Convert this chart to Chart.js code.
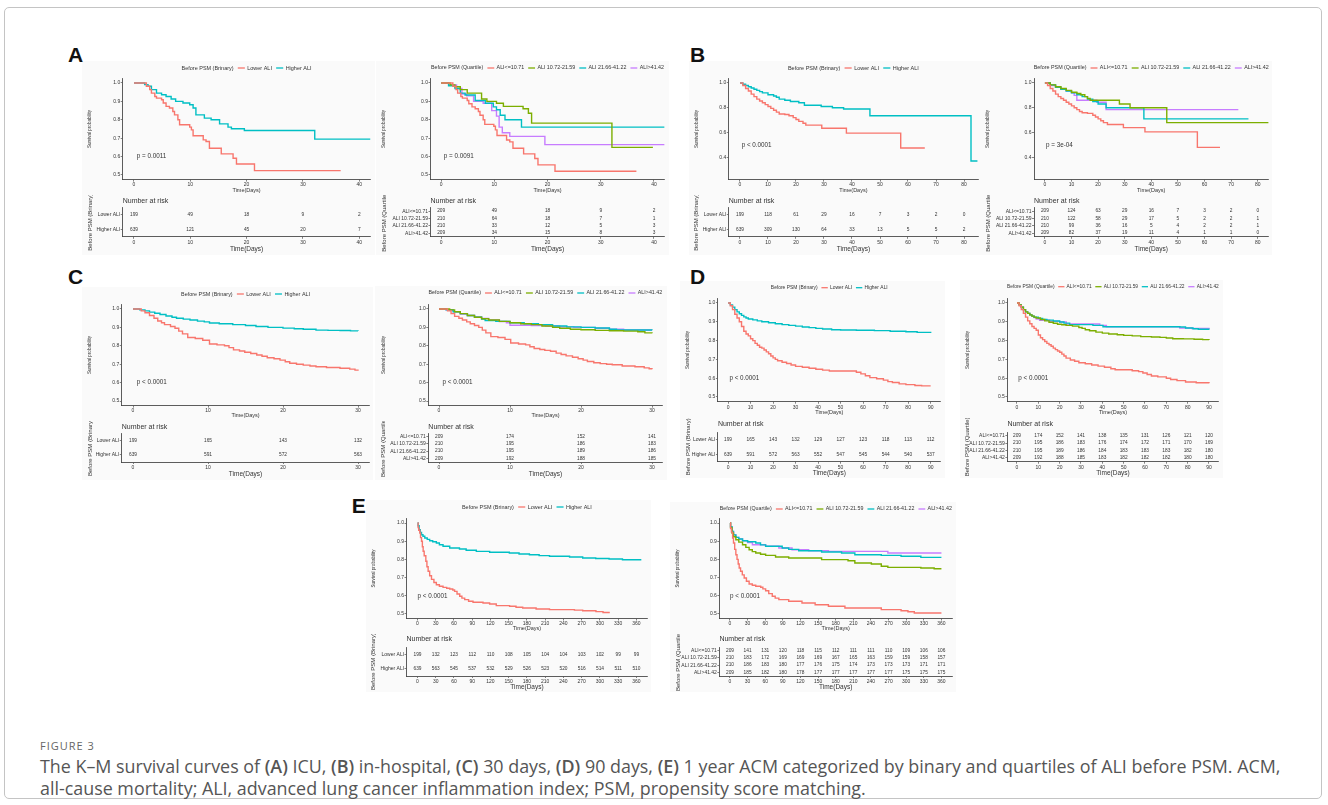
<!DOCTYPE html>
<html>
<head>
<meta charset="utf-8">
<script src="https://cdn.jsdelivr.net/npm/chart.js@4.4.1/dist/chart.umd.min.js"></script>
<style>
  body { margin: 0; width: 1328px; height: 805px; overflow: hidden; position: relative; background: #fff; font-family: "Liberation Sans", Arial, sans-serif; }
  .frame { position: absolute; left: 4px; top: 7px; width: 1318px; height: 792px; border: 1px solid #c4c4c4; border-radius: 5px; box-sizing: border-box; }
  .letter { position: absolute; font: bold 21px/21px "Liberation Sans", Arial, sans-serif; color: #111; }
  .bg { position: absolute; background: #fafafa; }
  canvas { position: absolute; }
  .figlabel { position: absolute; left: 40px; top: 739px; font: 11px/13px "Open Sans", sans-serif; letter-spacing: 1px; color: #666; }
  .capline { position: absolute; left: 40px; font-family: "Open Sans", sans-serif; font-size: 16px; line-height: 22px; color: #555; white-space: nowrap; }
  .capline b { font-weight: 600; }
</style>
</head>
<body>
<div class="frame"></div>
<div class="figlabel">FIGURE 3</div>
<div class="capline" id="cap1" style="top:755px">The K–M survival curves of <b>(A)</b> ICU, <b>(B)</b> in-hospital, <b>(C)</b> 30 days, <b>(D)</b> 90 days, <b>(E)</b> 1 year ACM categorized by binary and quartiles of ALI before PSM. ACM,</div>
<div class="capline" id="cap2" style="top:777px">all-cause mortality; ALI, advanced lung cancer inflammation index; PSM, propensity score matching.</div>
<script>
const FONT = '"Liberation Sans", Arial, sans-serif';
const INK = "#333333";
const RED = "#F8766D";
const GREEN = "#7CAE00";
const CYAN = "#00BFC4";
const PURPLE = "#C77CFF";

// groups and ticks
const binaryGroups = ["Lower ALI", "Higher ALI"];
const quartileGroups = ["ALI<=10.71", "ALI 10.72-21.59", "ALI 21.66-41.22", "ALI>41.42"];
const ticksIcu = [0, 10, 20, 30, 40];
const ticksHospital = [0, 10, 20, 30, 40, 50, 60, 70, 80];
const ticks30 = [0, 10, 20, 30];
const ticks90 = [0, 10, 20, 30, 40, 50, 60, 70, 80, 90];
const ticksYear = [0, 30, 60, 90, 120, 150, 180, 210, 240, 270, 300, 330, 360];
const survTicksHalf = [0.5, 0.6, 0.7, 0.8, 0.9, 1.0];
const survTicksWide = [0.4, 0.6, 0.8, 1.0];

// A: ICU
const icuLower = [[0,1],[2.2,0.982],[2.8,0.964],[3.1,0.945],[3.7,0.927],[4,0.918],[4.9,0.909],[5.2,0.891],[5.7,0.873],[6.3,0.864],[6.9,0.845],[7.2,0.827],[7.8,0.8],[8.1,0.773],[9.9,0.76],[10.2,0.745],[10.5,0.713],[12.3,0.691],[12.8,0.682],[13.4,0.645],[15.5,0.615],[17.6,0.591],[18.2,0.56],[21.4,0.524],[36.7,0.524]];
const icuHigher = [[0,1],[1.9,0.991],[2.5,0.982],[3.1,0.964],[4,0.945],[4.9,0.936],[5.7,0.927],[6.6,0.913],[7.4,0.9],[8.7,0.891],[9.9,0.882],[10.5,0.864],[11,0.827],[12.5,0.809],[13.7,0.8],[15.2,0.778],[16.7,0.76],[17.3,0.751],[19.6,0.742],[32.1,0.695],[42,0.695]];
const icuQ1 = [[0,1],[2.2,0.982],[2.8,0.964],[3.1,0.945],[3.7,0.927],[4,0.918],[4.9,0.905],[5.2,0.887],[5.8,0.87],[6.4,0.86],[7,0.845],[7.3,0.825],[7.9,0.8],[8.2,0.775],[9.9,0.765],[10.2,0.745],[10.5,0.715],[12.3,0.69],[12.9,0.68],[13.5,0.645],[15.5,0.615],[17.6,0.59],[18.2,0.555],[21.4,0.52],[36.7,0.52]];
const icuQ2 = [[0,1],[1.7,0.99],[2.6,0.98],[3.6,0.964],[4.9,0.945],[7.6,0.913],[8.6,0.9],[10.4,0.89],[11.7,0.873],[15.4,0.86],[16.4,0.836],[17,0.782],[32.1,0.65],[39.8,0.65]];
const icuQ3 = [[0,1],[1.4,0.985],[2.6,0.97],[3.6,0.945],[4.5,0.935],[6.4,0.905],[8.3,0.89],[9.8,0.87],[10.4,0.855],[11.1,0.825],[12,0.8],[15.1,0.76],[42,0.76]];
const icuQ4 = [[0,1],[1.4,0.99],[2.9,0.97],[3.9,0.94],[4.8,0.93],[6.1,0.9],[7.9,0.89],[9.5,0.85],[10.4,0.82],[10.9,0.76],[11.5,0.73],[12.9,0.71],[19.5,0.665],[42,0.665]];
const icuRiskLower = [199, 49, 18, 9, 2];
const icuRiskHigher = [639, 121, 45, 20, 7];
const icuRiskQ1 = [209, 49, 18, 9, 2];
const icuRiskQ2 = [210, 64, 18, 7, 1];
const icuRiskQ3 = [210, 33, 12, 5, 3];
const icuRiskQ4 = [209, 34, 15, 8, 3];

// B: in-hospital
const hospLower = [[0,1],[1,0.98],[2,0.955],[3,0.935],[4,0.91],[5,0.89],[6,0.87],[7,0.855],[8,0.84],[9,0.825],[10,0.81],[11,0.795],[12,0.78],[13,0.765],[14,0.75],[16,0.745],[17.5,0.735],[19,0.72],[20,0.705],[21,0.69],[22.5,0.675],[23.5,0.66],[29.2,0.635],[38,0.595],[57.4,0.475],[66,0.475]];
const hospHigher = [[0,1],[1,0.99],[2,0.98],[3,0.97],[4,0.96],[5,0.95],[6,0.94],[7,0.93],[8,0.92],[10,0.905],[12,0.895],[13,0.885],[14,0.87],[16,0.86],[18,0.85],[21,0.84],[23,0.82],[29,0.81],[33,0.8],[37,0.79],[46.4,0.735],[82.5,0.37],[84.8,0.37]];
const hospQ1 = [[0,1],[1,0.98],[2,0.955],[3,0.935],[4,0.91],[5,0.89],[6,0.875],[7,0.86],[8,0.845],[9,0.83],[10,0.815],[11,0.8],[12,0.785],[13,0.77],[14,0.76],[16,0.755],[18,0.74],[19,0.725],[20,0.71],[21,0.695],[22,0.68],[23.5,0.665],[29.5,0.64],[37.6,0.605],[57.3,0.48],[65.8,0.48]];
const hospQ2 = [[0,1],[2,0.985],[4,0.97],[6,0.955],[8,0.94],[10,0.925],[12,0.915],[13.5,0.905],[15,0.89],[16,0.875],[17,0.86],[28,0.83],[32,0.8],[45.8,0.68],[84.4,0.68]];
const hospQ3 = [[0,1],[2,0.985],[4,0.965],[6,0.95],[8,0.935],[10,0.92],[12,0.905],[14,0.89],[16,0.87],[18,0.85],[20,0.83],[23,0.8],[37.2,0.71],[76.5,0.71]];
const hospQ4 = [[0,1],[2,0.98],[4,0.965],[6,0.95],[8,0.935],[10,0.92],[11,0.9],[12,0.86],[19.5,0.845],[23,0.785],[72.7,0.785]];
const hospRiskLower = [199, 118, 61, 29, 16, 7, 3, 2, 0];
const hospRiskHigher = [639, 309, 130, 64, 33, 13, 5, 5, 2];
const hospRiskQ1 = [209, 124, 63, 29, 16, 7, 3, 2, 0];
const hospRiskQ2 = [210, 122, 58, 29, 17, 5, 2, 2, 1];
const hospRiskQ3 = [210, 99, 36, 16, 5, 4, 2, 2, 1];
const hospRiskQ4 = [209, 82, 37, 19, 11, 4, 1, 1, 0];

// C: 30 days
const d30Lower = [[0,1],[1.1,0.99],[1.6,0.98],[2.2,0.965],[2.8,0.95],[3.3,0.935],[3.8,0.925],[4.2,0.915],[5,0.905],[5.6,0.895],[6.1,0.88],[6.6,0.865],[7.3,0.845],[8.3,0.84],[9.3,0.83],[10.2,0.81],[11.2,0.805],[12.2,0.8],[12.8,0.79],[13.4,0.778],[14.2,0.772],[14.9,0.765],[15.7,0.758],[16.5,0.75],[17.2,0.743],[17.9,0.735],[18.8,0.73],[19.6,0.722],[20.3,0.713],[20.9,0.705],[21.8,0.7],[22.7,0.695],[23.6,0.69],[24.4,0.686],[25.8,0.682],[27.6,0.678],[28.9,0.673],[29.6,0.668],[30,0.664]];
const d30Higher = [[0,1],[0.9,0.995],[1.6,0.99],[2.2,0.983],[2.9,0.977],[3.6,0.97],[4.4,0.962],[5.2,0.955],[5.8,0.95],[6.7,0.945],[7.6,0.94],[8.6,0.934],[9.5,0.93],[10.2,0.924],[11.5,0.92],[13.3,0.915],[15,0.91],[16.4,0.905],[18,0.9],[20,0.896],[21.5,0.893],[22.7,0.89],[24.4,0.885],[26,0.884],[27.6,0.883],[29,0.881],[30,0.88]];
const d30Q1 = [[0,1],[1.2,0.99],[1.7,0.975],[2.2,0.96],[2.8,0.95],[3.3,0.94],[3.9,0.93],[4.4,0.92],[5,0.91],[5.6,0.9],[6.1,0.885],[6.6,0.87],[7.3,0.85],[8.3,0.845],[9.3,0.835],[10.1,0.815],[11.2,0.81],[12.2,0.805],[12.8,0.795],[13.4,0.785],[14.2,0.78],[14.9,0.775],[15.7,0.77],[16.5,0.76],[17.2,0.753],[17.9,0.745],[18.8,0.738],[19.6,0.73],[20.3,0.722],[20.9,0.715],[21.8,0.708],[22.7,0.703],[23.6,0.7],[24.4,0.697],[25.8,0.69],[27.6,0.686],[28.9,0.68],[29.6,0.675],[30,0.672]];
const d30Q2 = [[0,1],[1.5,0.995],[2.2,0.985],[3,0.975],[4,0.965],[5,0.955],[6,0.947],[7,0.94],[8.5,0.933],[10,0.925],[11.5,0.92],[13,0.915],[14.5,0.908],[16,0.9],[17,0.895],[18.5,0.89],[20,0.887],[22,0.884],[24,0.882],[26,0.88],[28,0.876],[29,0.87],[30,0.868]];
const d30Q3 = [[0,1],[1,0.995],[2,0.985],[3,0.975],[4,0.965],[5,0.955],[6,0.945],[6.5,0.937],[8,0.933],[10,0.925],[12,0.92],[14,0.915],[16,0.908],[18,0.903],[20,0.9],[22,0.897],[24,0.89],[25,0.886],[30,0.885]];
const d30Q4 = [[0,1],[1,0.995],[2,0.985],[3,0.972],[4,0.965],[5,0.957],[6,0.948],[7,0.94],[8.5,0.932],[9.5,0.925],[10,0.912],[13,0.91],[15,0.908],[17,0.903],[19,0.9],[22,0.895],[24,0.89],[26,0.886],[30,0.886]];
const d30RiskLower = [199, 165, 143, 132];
const d30RiskHigher = [639, 591, 572, 563];
const d30RiskQ1 = [209, 174, 152, 141];
const d30RiskQ2 = [210, 195, 186, 183];
const d30RiskQ3 = [210, 195, 189, 186];
const d30RiskQ4 = [209, 192, 188, 185];

// D: 90 days
const d90Lower = [[0,1],[1,0.985],[2,0.965],[3,0.94],[4,0.92],[5,0.9],[6,0.875],[7,0.85],[8,0.835],[9,0.825],[10,0.81],[11,0.8],[12,0.785],[13,0.775],[14,0.765],[15,0.76],[16,0.75],[17,0.74],[18,0.73],[19,0.718],[20,0.708],[21,0.7],[22,0.693],[24,0.685],[26,0.678],[28,0.67],[30,0.663],[33,0.658],[36,0.653],[39,0.648],[42,0.643],[45,0.638],[54,0.638],[57,0.632],[59,0.623],[61,0.613],[63,0.603],[66,0.597],[69,0.59],[71,0.582],[73,0.577],[76,0.57],[79,0.566],[83,0.561],[86,0.559],[90,0.559]];
const d90Higher = [[0,1],[1,0.99],[2,0.978],[3,0.965],[4,0.953],[5,0.943],[6,0.934],[7,0.926],[8,0.92],[9,0.915],[11,0.91],[13,0.905],[15,0.9],[18,0.895],[21,0.89],[24,0.885],[27,0.881],[30,0.877],[33,0.872],[36,0.869],[39,0.865],[42,0.862],[46,0.858],[50,0.856],[57,0.855],[65,0.853],[72,0.85],[79,0.847],[84,0.844],[90,0.841]];
const d90Q1 = [[0,1],[1,0.985],[2,0.965],[3,0.945],[4,0.925],[5,0.905],[6,0.89],[7,0.875],[8,0.865],[9,0.855],[10,0.83],[11,0.815],[12,0.805],[13,0.795],[14,0.785],[15,0.778],[16,0.77],[17,0.76],[18,0.752],[19,0.745],[20,0.738],[21,0.728],[22,0.718],[23,0.707],[25,0.697],[27,0.69],[29,0.682],[32,0.677],[35,0.67],[38,0.664],[41,0.658],[44,0.65],[46,0.645],[54,0.64],[57,0.635],[59,0.628],[61,0.62],[63,0.612],[66,0.607],[70,0.6],[72,0.593],[75,0.587],[79,0.58],[84,0.576],[90,0.573]];
const d90Q2 = [[0,1],[1,0.99],[2,0.978],[3,0.965],[4,0.953],[5,0.945],[6,0.937],[7,0.93],[8,0.925],[9,0.92],[11,0.912],[13,0.905],[15,0.898],[17,0.892],[19,0.887],[21,0.884],[23,0.881],[26,0.877],[29,0.87],[30.5,0.865],[32,0.858],[34,0.852],[37,0.845],[40,0.84],[43,0.835],[47,0.831],[50,0.828],[54,0.825],[58,0.821],[63,0.819],[67,0.817],[70,0.814],[73,0.81],[78,0.809],[83,0.807],[87,0.805],[90,0.803]];
const d90Q3 = [[0,1],[1,0.99],[2,0.978],[3,0.965],[4,0.953],[5,0.945],[6,0.937],[7,0.93],[8,0.924],[10,0.918],[12,0.913],[14,0.909],[17,0.904],[20,0.899],[22,0.893],[24.7,0.885],[35.6,0.881],[40.3,0.874],[76.3,0.872],[79,0.867],[82.5,0.863],[85,0.86],[90,0.858]];
const d90Q4 = [[0,1],[1,0.99],[2,0.978],[3,0.965],[4,0.953],[5,0.945],[6,0.937],[7,0.93],[8,0.922],[9,0.915],[10.6,0.908],[15.3,0.902],[20,0.899],[23.1,0.888],[38.8,0.881],[41.9,0.874],[73.1,0.874],[76.3,0.867],[82,0.864],[90,0.862]];
const d90RiskLower = [199, 165, 143, 132, 129, 127, 123, 118, 113, 112];
const d90RiskHigher = [639, 591, 572, 563, 552, 547, 545, 544, 540, 537];
const d90RiskQ1 = [209, 174, 152, 141, 138, 135, 131, 126, 121, 120];
const d90RiskQ2 = [210, 195, 186, 183, 176, 174, 172, 171, 170, 169];
const d90RiskQ3 = [210, 195, 189, 186, 184, 183, 183, 183, 182, 180];
const d90RiskQ4 = [209, 192, 188, 185, 183, 182, 182, 182, 180, 180];

// E: 1 year
const yearLower = [[0,1],[1,0.975],[2,0.96],[3.8,0.945],[5,0.92],[6.6,0.9],[8,0.87],[9.3,0.845],[11,0.82],[13.7,0.79],[15.5,0.76],[17.5,0.735],[20,0.71],[23,0.69],[27,0.673],[31,0.661],[36,0.652],[42,0.646],[48,0.641],[53,0.637],[58,0.632],[61,0.624],[65,0.61],[69.4,0.597],[73,0.587],[77.6,0.579],[84,0.57],[91.3,0.564],[107.7,0.56],[118.6,0.555],[129.5,0.546],[151.4,0.542],[162,0.537],[173,0.533],[195,0.527],[217,0.524],[244,0.524],[258,0.521],[271.6,0.518],[293.4,0.513],[305,0.508],[315,0.504]];
const yearHigher = [[0,1],[1,0.985],[2.7,0.963],[4.5,0.948],[6.6,0.936],[9,0.927],[12,0.918],[16,0.91],[20,0.903],[25,0.897],[31,0.89],[36,0.881],[42,0.872],[53,0.863],[69,0.857],[80,0.85],[96.7,0.844],[118.6,0.839],[151,0.835],[167,0.83],[184,0.826],[200,0.821],[217,0.817],[250,0.813],[271.6,0.808],[293,0.805],[315,0.802],[337,0.798],[368,0.798]];
const yearQ1 = [[0,1],[1,0.97],[2.5,0.95],[4.5,0.918],[6,0.89],[8,0.855],[10,0.826],[12,0.8],[14,0.775],[15.7,0.753],[18,0.735],[21,0.715],[24.2,0.698],[28,0.68],[32.6,0.665],[38,0.658],[43.9,0.652],[52.3,0.647],[56,0.638],[60.7,0.628],[66,0.612],[72,0.597],[77,0.587],[83.2,0.579],[100,0.57],[122.6,0.56],[145,0.551],[167.6,0.542],[195.7,0.533],[229.5,0.533],[257.6,0.524],[291.3,0.518],[303,0.512],[313.8,0.505],[360,0.505]];
const yearQ2 = [[0,1],[1,0.975],[3.4,0.945],[6,0.925],[10,0.908],[15,0.895],[21.4,0.881],[27,0.866],[32.6,0.853],[38,0.843],[43.9,0.835],[52,0.828],[60.7,0.822],[77.6,0.813],[100,0.808],[145,0.808],[156,0.799],[201,0.793],[212.6,0.78],[240.7,0.775],[257.6,0.762],[268.8,0.756],[325,0.753],[347.6,0.749],[360,0.749]];
const yearQ3 = [[0,1],[1,0.98],[3.4,0.954],[6,0.935],[10,0.921],[15,0.912],[21.4,0.903],[30,0.897],[43.9,0.89],[52,0.88],[60.7,0.872],[88.9,0.863],[100,0.855],[117,0.848],[156,0.841],[190,0.835],[212.6,0.826],[257.6,0.822],[291.3,0.817],[325,0.811],[360,0.811]];
const yearQ4 = [[0,1],[1,0.98],[3.4,0.954],[6,0.935],[10,0.921],[15,0.912],[21.4,0.903],[30,0.893],[38.2,0.881],[60.7,0.872],[83.2,0.863],[105.7,0.853],[133.9,0.848],[167.6,0.844],[246.3,0.844],[268.8,0.835],[360,0.835]];
const yearRiskLower = [199, 132, 123, 112, 110, 108, 105, 104, 104, 103, 102, 99, 99];
const yearRiskHigher = [639, 563, 545, 537, 532, 529, 526, 523, 520, 516, 514, 511, 510];
const yearRiskQ1 = [209, 141, 131, 120, 118, 115, 112, 111, 111, 110, 109, 106, 106];
const yearRiskQ2 = [210, 183, 172, 169, 169, 169, 167, 165, 163, 159, 159, 158, 157];
const yearRiskQ3 = [210, 186, 183, 180, 177, 176, 175, 174, 173, 173, 173, 171, 171];
const yearRiskQ4 = [209, 185, 182, 180, 178, 177, 177, 177, 177, 177, 175, 175, 175];

Chart.defaults.font.family = FONT;
Chart.defaults.color = INK;

const BIN = { legend: "Before PSM (Brinary)", groups: binaryGroups, colors: [RED, CYAN] };
const QUA = { legend: "Before PSM (Quartile)", groups: quartileGroups, colors: [RED, GREEN, CYAN, PURPLE] };

const rowA = { top: 78.4, bottom: 179.6, legendY: 68, xTitleY: 190.7, tableTitleY: 201, tableTop: 207.5, tableBottom: 236.8, tableXTitleY: 249.5 };
const rowC = { top: 304.4, bottom: 405.6, legendY: 294, xTitleY: 415.7, tableTitleY: 426.7, tableTop: 433, tableBottom: 462, tableXTitleY: 474.5 };
const rowD = { top: 298.3, bottom: 401.7, legendY: 287.7, xTitleY: 413, tableTitleY: 424, tableTop: 432, tableBottom: 461.7, tableXTitleY: 473 };
const rowE = { top: 518.5, bottom: 618.5, legendY: 507, xTitleY: 629, tableTitleY: 639.5, tableTop: 647, tableBottom: 676, tableXTitleY: 687 };

const panels = [
  { ...rowA, ...BIN, legendW: 130, titleX: 90, axisX: 122.7, right: 370.5, xMin: -2, xMax: 42, xTicks: ticksIcu, yMin: 0.475, yMax: 1.025, yTicks: survTicksHalf,
    curves: [icuLower, icuHigher], risk: [icuRiskLower, icuRiskHigher], pText: "p = 0.0011", pAt: [0.5, 0.6] },
  { ...rowA, ...QUA, legendW: 233, titleX: 384, axisX: 430.5, right: 664.6, xMin: -2, xMax: 42, xTicks: ticksIcu, yMin: 0.475, yMax: 1.025, yTicks: survTicksHalf,
    curves: [icuQ1, icuQ2, icuQ3, icuQ4], risk: [icuRiskQ1, icuRiskQ2, icuRiskQ3, icuRiskQ4], pText: "p = 0.0091", pAt: [0.5, 0.6] },
  { ...rowA, ...BIN, legendW: 131, titleX: 696.5, axisX: 728.8, right: 978, xMin: -4, xMax: 85, xTicks: ticksHospital, yMin: 0.22, yMax: 1.037, yTicks: survTicksWide,
    curves: [hospLower, hospHigher], risk: [hospRiskLower, hospRiskHigher], pText: "p < 0.0001", pAt: [0.6, 0.5] },
  { ...rowA, ...QUA, legendW: 235, titleX: 988, axisX: 1034, right: 1268.4, xMin: -4.1, xMax: 84, xTicks: ticksHospital, yMin: 0.22, yMax: 1.037, yTicks: survTicksWide,
    curves: [hospQ1, hospQ2, hospQ3, hospQ4], risk: [hospRiskQ1, hospRiskQ2, hospRiskQ3, hospRiskQ4], pText: "p = 3e-04", pAt: [0.4, 0.5] },
  { ...rowC, ...BIN, legendW: 129, titleX: 90, axisX: 121.75, right: 369.25, xMin: -1.5, xMax: 31.5, xTicks: ticks30, yMin: 0.475, yMax: 1.025, yTicks: survTicksHalf,
    curves: [d30Lower, d30Higher], risk: [d30RiskLower, d30RiskHigher], pText: "p < 0.0001", pAt: [0.5, 0.6] },
  { ...rowC, ...QUA, legendY: 293, legendW: 234, titleX: 383.3, axisX: 428.35, right: 662.65, xMin: -1.5, xMax: 31.5, xTicks: ticks30, yMin: 0.475, yMax: 1.025, yTicks: survTicksHalf,
    curves: [d30Q1, d30Q2, d30Q3, d30Q4], risk: [d30RiskQ1, d30RiskQ2, d30RiskQ3, d30RiskQ4], pText: "p < 0.0001", pAt: [0.5, 0.6] },
  { ...rowD, ...BIN, legendW: 117, titleX: 688, axisX: 717.9, right: 940.8, xMin: -4.5, xMax: 94.5, xTicks: ticks90, yMin: 0.475, yMax: 1.025, yTicks: survTicksHalf,
    curves: [d90Lower, d90Higher], risk: [d90RiskLower, d90RiskHigher], pText: "p < 0.0001", pAt: [0.6, 0.6] },
  { ...rowD, ...QUA, legendY: 286.7, legendW: 212, titleX: 967.5, axisX: 1007.4, right: 1218.6, xMin: -4.5, xMax: 94.5, xTicks: ticks90, yMin: 0.475, yMax: 1.025, yTicks: survTicksHalf,
    curves: [d90Q1, d90Q2, d90Q3, d90Q4], risk: [d90RiskQ1, d90RiskQ2, d90RiskQ3, d90RiskQ4], pText: "p < 0.0001", pAt: [0.6, 0.6] },
  { ...rowE, ...BIN, legendW: 130, titleX: 373.5, axisX: 406.55, right: 647.4, xMin: -18, xMax: 378, xTicks: ticksYear, yMin: 0.475, yMax: 1.025, yTicks: survTicksHalf,
    curves: [yearLower, yearHigher], risk: [yearRiskLower, yearRiskHigher], pText: "p < 0.0001", pAt: [0, 0.6] },
  { ...rowE, ...QUA, legendY: 509, legendW: 232, titleX: 678, axisX: 719.4, right: 952, xMin: -18, xMax: 378, xTicks: ticksYear, yMin: 0.475, yMax: 1.025, yTicks: survTicksHalf,
    curves: [yearQ1, yearQ2, yearQ3, yearQ4], risk: [yearRiskQ1, yearRiskQ2, yearRiskQ3, yearRiskQ4], pText: "p < 0.0001", pAt: [0, 0.6] }
];

const letters = [["A", 68, 43.9], ["B", 690, 43.9], ["C", 68, 265.7], ["D", 690, 265.7], ["E", 351.7, 495.2]];

function makeCanvas(left, top, width, height) {
  const canvas = document.createElement("canvas");
  canvas.width = width;
  canvas.height = height;
  canvas.style.left = `${left}px`;
  canvas.style.top = `${top}px`;
  canvas.style.width = `${width}px`;
  canvas.style.height = `${height}px`;
  document.body.appendChild(canvas);
  return canvas;
}

function axisLine() {
  return {
    grid: { display: true, drawOnChartArea: false, drawTicks: true, tickLength: 2, color: INK, lineWidth: 0.6, offset: false },
    border: { display: true, color: INK, width: 0.8 }
  };
}

function linearAxis(min, max, ticks, fmt, title, titleSize, fit) {
  return {
    type: "linear",
    min,
    max,
    bounds: "data",
    afterBuildTicks: (scale) => { scale.ticks = ticks.map((v) => ({ value: v })); },
    afterFit: fit,
    ticks: { autoSkip: false, maxRotation: 0, padding: 0.5, font: { size: 5 }, color: INK, callback: fmt },
    ...axisLine(),
    title: { display: true, text: title, font: { size: titleSize, lineHeight: 1.2 }, padding: 0, color: INK }
  };
}

// legend drawn ggplot-style in one row above the panel, scaled to its measured width
function legendPlugin(p, canvasTop) {
  return {
    id: "ggLegend",
    afterDraw(chart) {
      const ctx = chart.ctx;
      const area = chart.chartArea;
      const base = 5.2;
      ctx.save();
      ctx.font = `${base}px ${FONT}`;
      let raw = ctx.measureText(p.legend).width;
      p.groups.forEach((g) => { raw += 4 + 6.7 + 2.3 + ctx.measureText(g).width; });
      const k = p.legendW / raw;
      ctx.font = `${base * k}px ${FONT}`;
      ctx.fillStyle = INK;
      ctx.textBaseline = "middle";
      let x = (area.left + area.right) / 2 - p.legendW / 2;
      const y = p.legendY - canvasTop;
      ctx.fillText(p.legend, x, y);
      x += ctx.measureText(p.legend).width;
      p.groups.forEach((g, i) => {
        x += 4 * k;
        ctx.strokeStyle = p.colors[i];
        ctx.lineWidth = 1.3;
        ctx.beginPath();
        ctx.moveTo(x, y);
        ctx.lineTo(x + 6.7 * k, y);
        ctx.stroke();
        x += (6.7 + 2.3) * k;
        ctx.fillText(g, x, y);
        x += ctx.measureText(g).width;
      });
      ctx.restore();
    }
  };
}

function pValuePlugin(p) {
  return {
    id: "pValue",
    afterDatasetsDraw(chart) {
      const ctx = chart.ctx;
      ctx.save();
      ctx.font = `6.3px ${FONT}`;
      ctx.fillStyle = INK;
      ctx.textBaseline = "middle";
      ctx.fillText(p.pText, chart.scales.x.getPixelForValue(p.pAt[0]), chart.scales.y.getPixelForValue(p.pAt[1]));
      ctx.restore();
    }
  };
}

function riskPlugin(p, canvasTop) {
  return {
    id: "riskNumbers",
    afterDatasetsDraw(chart) {
      const ctx = chart.ctx;
      ctx.save();
      ctx.font = `4.8px ${FONT}`;
      ctx.fillStyle = INK;
      ctx.textAlign = "center";
      ctx.textBaseline = "middle";
      chart.data.datasets.forEach((ds, i) => {
        chart.getDatasetMeta(i).data.forEach((pt, j) => {
          ctx.fillText(String(ds.data[j].n), pt.x, pt.y);
        });
      });
      ctx.font = `7px ${FONT}`;
      ctx.textAlign = "left";
      ctx.fillText("Number at risk", chart.chartArea.left, p.tableTitleY - canvasTop);
      ctx.restore();
    }
  };
}

function buildSurvival(p) {
  const left = Math.round(p.titleX - 2.7);
  const top = Math.round(p.legendY - 6);
  const bottom = Math.round(p.xTitleY + 3.3);
  const width = Math.ceil(p.right - left + 3);
  const canvas = makeCanvas(left, top, width, bottom - top);
  new Chart(canvas, {
    type: "line",
    data: {
      datasets: p.curves.map((curve, i) => ({
        label: p.groups[i],
        data: curve.map(([t, s]) => ({ x: t, y: s })),
        borderColor: p.colors[i],
        borderWidth: 1.4,
        stepped: true,
        pointRadius: 0,
        fill: false
      }))
    },
    options: {
      responsive: false,
      animation: false,
      devicePixelRatio: 1,
      layout: { padding: { left: 0, top: p.top - top, right: width - (p.right - left), bottom: 0 } },
      plugins: { legend: { display: false }, tooltip: { enabled: false } },
      scales: {
        x: linearAxis(p.xMin, p.xMax, p.xTicks, (v) => String(v), "Time(Days)", 5.5,
          (s) => { s.height = bottom - p.bottom; }),
        y: linearAxis(p.yMin, p.yMax, p.yTicks, (v) => v.toFixed(1), "Survival probability", 4.5,
          (s) => { s.width = p.axisX - left; })
      }
    },
    plugins: [legendPlugin(p, top), pValuePlugin(p)]
  });
}

function buildRiskTable(p) {
  const left = Math.round(p.titleX - 3.5);
  const top = Math.round(p.tableTitleY - 6);
  const bottom = Math.round(p.tableXTitleY + 3.9);
  const width = Math.ceil(p.right - left + 3);
  const canvas = makeCanvas(left, top, width, bottom - top);
  new Chart(canvas, {
    type: "scatter",
    data: {
      datasets: p.risk.map((row, i) => ({
        label: p.groups[i],
        data: row.map((n, j) => ({ x: p.xTicks[j], y: p.groups[i], n })),
        pointRadius: 0,
        showLine: false
      }))
    },
    options: {
      responsive: false,
      animation: false,
      devicePixelRatio: 1,
      layout: { padding: { left: 0, top: p.tableTop - top, right: width - (p.right - left), bottom: 0 } },
      plugins: { legend: { display: false }, tooltip: { enabled: false } },
      scales: {
        x: linearAxis(p.xMin, p.xMax, p.xTicks, (v) => String(v), "Time(Days)", 6.5,
          (s) => { s.height = bottom - p.tableBottom; }),
        y: {
          type: "category",
          labels: p.groups,
          offset: true,
          afterFit: (s) => { s.width = p.axisX - left; },
          ticks: { autoSkip: false, padding: 0.5, font: { size: 5 }, color: INK },
          ...axisLine(),
          title: { display: true, text: p.legend, font: { size: 6, lineHeight: 1.2 }, padding: 0, color: INK }
        }
      }
    },
    plugins: [riskPlugin(p, top)]
  });
}

panels.forEach((p) => {
  const bg = document.createElement("div");
  bg.className = "bg";
  bg.style.left = `${p.titleX - 8}px`;
  bg.style.top = `${p.legendY - 7}px`;
  bg.style.width = `${p.right + 4 - (p.titleX - 8)}px`;
  bg.style.height = `${p.tableXTitleY + 5 - (p.legendY - 7)}px`;
  document.body.appendChild(bg);
});

letters.forEach(([text, x, y]) => {
  const div = document.createElement("div");
  div.className = "letter";
  div.style.left = `${x}px`;
  div.style.top = `${y}px`;
  div.textContent = text;
  document.body.appendChild(div);
});

// fit the caption's first line to the width it has in the figure
const cap1 = document.getElementById("cap1");
const cap2 = document.getElementById("cap2");
const capSize = 16 * 1242 / cap1.getBoundingClientRect().width;
cap1.style.fontSize = `${capSize}px`;
cap2.style.fontSize = `${capSize}px`;

panels.forEach((p) => {
  buildSurvival(p);
  buildRiskTable(p);
});
</script>
</body>
</html>
